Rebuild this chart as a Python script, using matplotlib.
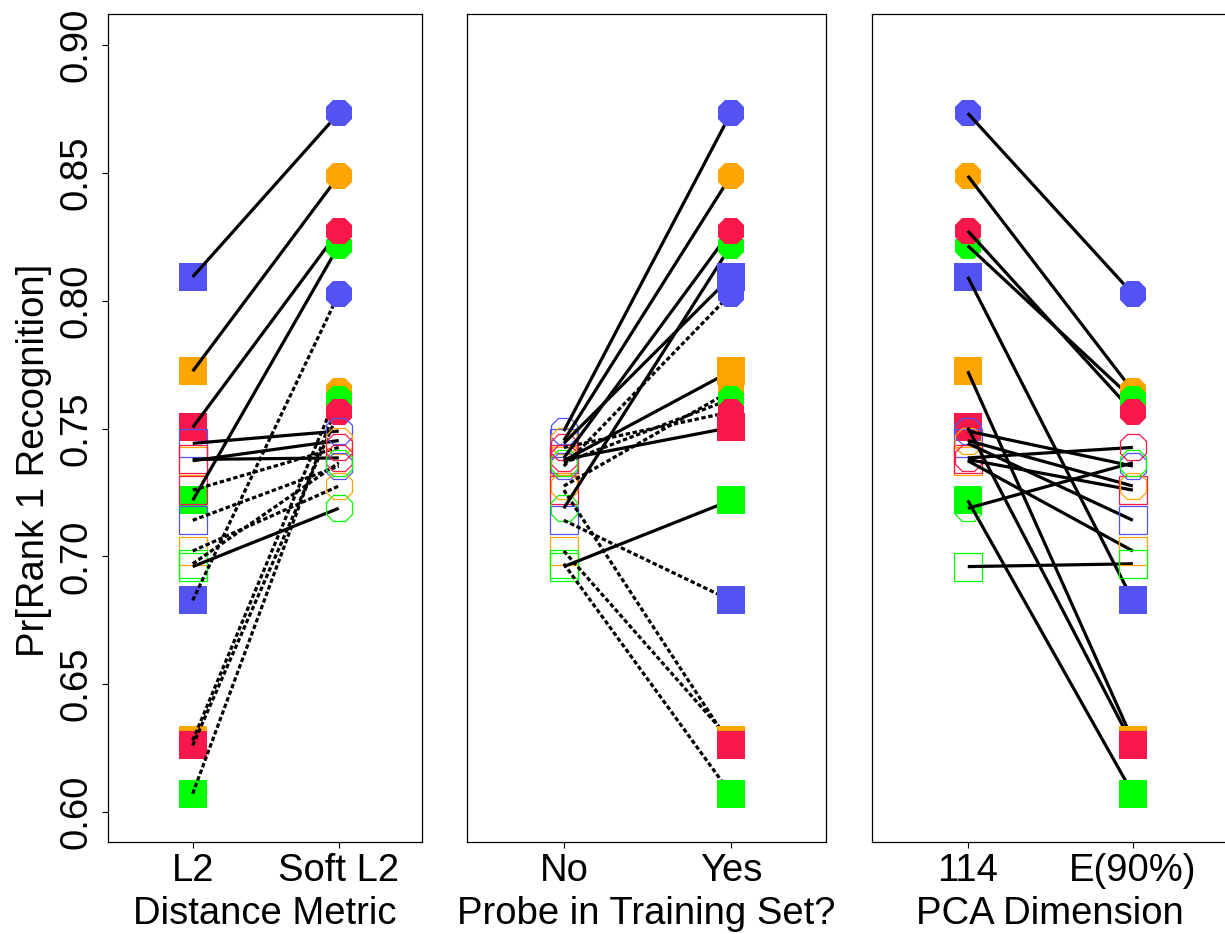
import matplotlib
matplotlib.use("Agg")
import matplotlib.pyplot as plt
import pandas as pd

plt.rcParams["font.family"] = ["Liberation Sans", "DejaVu Sans"]

# ---------------------------------------------------
# DATA
# groups: blue, orange, green, red
# ---------------------------------------------------
groups = ["blue", "orange", "green", "red"]
group_colors = ["#5353F4", "#FFA500", "#00FF00", "#F8174A"]

l2_no_114 = [0.7442, 0.7374, 0.6960, 0.7379]
l2_no_e90 = [0.7141, 0.7021, 0.6971, 0.7259]
l2_yes_114 = [0.8093, 0.7724, 0.7219, 0.7504]
l2_yes_e90 = [0.6828, 0.6280, 0.6072, 0.6261]
soft_no_114 = [0.7490, 0.7453, 0.7188, 0.7385]
soft_no_e90 = [0.7353, 0.7275, 0.7366, 0.7426]
soft_yes_114 = [0.8733, 0.8488, 0.8215, 0.8273]
soft_yes_e90 = [0.8026, 0.7647, 0.7615, 0.7565]

metric_labels = ["L2", "Soft L2"]
probe_labels = ["No", "Yes"]
dim_labels = ["114", "E(90%)"]
y_ticks = [0.60, 0.65, 0.70, 0.75, 0.80, 0.85, 0.90]

rows = []
cells = [
    ("L2", "No", "114", l2_no_114),
    ("L2", "No", "E(90%)", l2_no_e90),
    ("L2", "Yes", "114", l2_yes_114),
    ("L2", "Yes", "E(90%)", l2_yes_e90),
    ("Soft L2", "No", "114", soft_no_114),
    ("Soft L2", "No", "E(90%)", soft_no_e90),
    ("Soft L2", "Yes", "114", soft_yes_114),
    ("Soft L2", "Yes", "E(90%)", soft_yes_e90),
]
for metric, probe, dim, vals in cells:
    for g, v in zip(groups, vals):
        rows.append({"metric": metric, "probe": probe, "dim": dim, "group": g, "acc": v})
df = pd.DataFrame(rows)

color_of = dict(zip(groups, group_colors))
FS = 27.5


def draw_point(ax, x, row, z):
    filled = row["probe"] == "Yes"
    if row["metric"] == "L2":
        marker, ms = "s", 19.5
    else:
        marker, ms = "8", 21
    c = color_of[row["group"]]
    if filled:
        ax.plot([x], [row["acc"]], marker=marker, ms=ms, color=c,
                markeredgewidth=0, linestyle="none", zorder=z)
    else:
        ax.plot([x], [row["acc"]], marker=marker, ms=ms, markerfacecolor="none",
                markeredgecolor=c, markeredgewidth=0.9, linestyle="none",
                zorder=z + 0.5)


def draw_panel(ax, factor, levels, xlabel, dotted_by_dim):
    others = [f for f in ["metric", "probe", "dim"] if f != factor]
    left = df[df[factor] == levels[0]]
    right = df[df[factor] == levels[1]]

    # left column, then lines, then right column
    for _, r in left.iterrows():
        draw_point(ax, 1, r, 1)
    for _, r in left.iterrows():
        m = right
        for f in others + ["group"]:
            m = m[m[f] == r[f]]
        r2 = m.iloc[0]
        ls = "-"
        if dotted_by_dim and r["dim"] == "E(90%)":
            ls = (0, (1.4, 0.8))
        ax.plot([1, 2], [r["acc"], r2["acc"]], color="black", lw=2.3,
                linestyle=ls, zorder=2, solid_capstyle="butt")
    for _, r in right.iterrows():
        draw_point(ax, 2, r, 3)

    ax.set_xlim(0.42, 2.57)
    ax.set_ylim(0.5883, 0.9121)
    ax.set_xticks([1, 2])
    ax.set_xticklabels(levels, fontsize=FS)
    ax.set_xlabel(xlabel, fontsize=FS, labelpad=5)
    ax.tick_params(axis="x", length=4, width=0.8, pad=4)
    for s in ax.spines.values():
        s.set_linewidth(0.9)


fig = plt.figure(figsize=(12.25, 9.34), dpi=100)
W, H = 1225.0, 934.0
bottom = (H - 842) / H
height = 828 / H
ax1 = fig.add_axes([108 / W, bottom, 314 / W, height])
ax2 = fig.add_axes([467 / W, bottom, 359 / W, height])
ax3 = fig.add_axes([872 / W, bottom, 355 / W, height])

draw_panel(ax1, "metric", metric_labels, "Distance Metric", True)
draw_panel(ax2, "probe", probe_labels, "Probe in Training Set?", True)
draw_panel(ax3, "dim", dim_labels, "PCA Dimension", False)

ax1.set_yticks(y_ticks)
ax1.set_yticklabels([f"{t:.2f}" for t in y_ticks], rotation=90, va="center",
                    fontsize=FS)
ax1.tick_params(axis="y", length=4, width=0.8, pad=6)
ax1.set_ylabel("Pr[Rank 1 Recognition]", fontsize=FS)
ax1.yaxis.set_label_coords(-0.178, 0.461)
for ax in (ax2, ax3):
    ax.set_yticks([])

fig.savefig("out.png", dpi=100)
